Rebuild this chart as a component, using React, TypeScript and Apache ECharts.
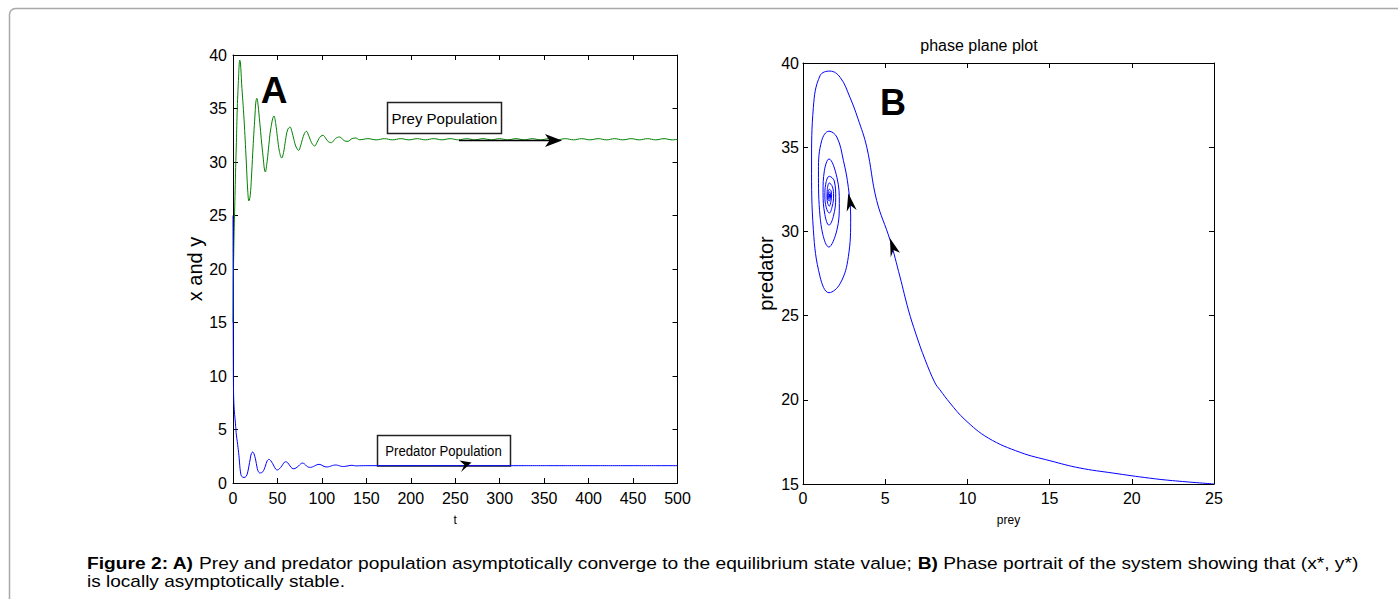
import React, { useEffect, useRef } from 'react';
import * as echarts from 'echarts';

const FONT = "'Liberation Sans', Arial, Helvetica, sans-serif";

// time (t) samples
const tValues = [
  0, 0.05, 0.08, 0.12, 0.17, 0.22, 0.28, 0.36, 0.45, 0.55,
  0.65, 0.75, 1.0, 1.4, 1.8, 2.4, 3.0, 3.8, 4.8, 5.6,
  6.3, 7.0, 7.6, 8.4, 9.7, 12.4, 14.9, 16.6, 17.9, 19.4,
  20.7, 22.2, 23.4, 24.6, 25.7, 26.8, 28.1, 30.2, 33.4, 36.4,
  38.4, 40.4, 42.7, 46.1, 48, 50, 52.2, 54.8, 56.9, 59,
  61.4, 64.1, 66.4, 68.5, 71, 73.9, 76, 78, 80.3, 82.6,
  85, 87.3, 89.5, 91.9, 94.3, 96.8, 99, 101.2, 103.6, 106,
  108.4, 110.7, 113.1, 115.4, 117.7, 120, 122.4, 124.6, 127, 129.4,
  131.6, 133.8, 136, 138, 142.5, 151.8, 161, 170.3, 179.5, 188.8,
  198, 207.3, 216.5, 225.8, 235, 244.3, 253.5, 262.8, 272, 281.3,
  290.5, 299.8, 309, 318.3, 327.5, 336.8, 346, 355.3, 364.5, 373.8,
  383, 392.3, 401.5, 410.8, 420, 429.3, 438.5, 447.8, 457, 466.3,
  475.5, 484.8, 494, 500,
];

// blue curve (lower population, "prey" axis of the phase plot)
const bluePop = [
  25.0, 22.48, 21.07, 18.85, 16.84, 15.03, 13.21, 11.27, 9.85, 8.94,
  8.33, 8.03, 7.42, 6.87, 6.41, 5.9, 5.29, 4.48, 3.88, 3.34,
  2.86, 2.26, 1.64, 1.04, 0.63, 0.52, 0.63, 1.04, 1.58, 2.26,
  2.76, 2.9, 2.76, 2.46, 2.06, 1.58, 1.14, 0.94, 1.04, 1.58,
  2.06, 2.21, 2.06, 1.58, 1.3, 1.22, 1.33, 1.58, 1.85, 1.99,
  1.9, 1.6, 1.38, 1.33, 1.42, 1.6, 1.78, 1.86, 1.79, 1.6,
  1.48, 1.46, 1.51, 1.6, 1.7, 1.74, 1.7, 1.6, 1.52, 1.5,
  1.54, 1.6, 1.66, 1.68, 1.66, 1.6, 1.55, 1.54, 1.57, 1.6,
  1.64, 1.65, 1.63, 1.6, 1.61, 1.62, 1.62, 1.62, 1.62, 1.62,
  1.62, 1.62, 1.62, 1.62, 1.62, 1.62, 1.62, 1.62, 1.62, 1.62,
  1.62, 1.62, 1.62, 1.62, 1.62, 1.62, 1.62, 1.62, 1.62, 1.62,
  1.62, 1.62, 1.62, 1.62, 1.62, 1.62, 1.62, 1.62, 1.62, 1.62,
  1.62, 1.62, 1.62, 1.62,
];

// green curve (upper population, "predator" axis of the phase plot)
const greenPop = [
  15.0, 15.2, 15.35, 15.65, 15.95, 16.38, 16.88, 17.73, 18.82, 19.81,
  20.59, 21.0, 22.4, 23.9, 25.34, 27.3, 29.5, 31.84, 35.0, 36.7,
  37.95, 39.15, 39.52, 39.25, 37.36, 34.0, 30.1, 27.3, 26.36, 26.9,
  28.5, 30.85, 32.6, 34.2, 35.6, 35.95, 35.4, 33.6, 30.85, 29.07,
  30.07, 31.65, 33.22, 34.3, 33.6, 32.3, 31.0, 30.37, 30.9, 32.0,
  33.0, 33.27, 32.8, 32.1, 31.4, 31.09, 31.5, 32.1, 32.65, 32.87,
  32.5, 32.0, 31.65, 31.5, 31.8, 32.2, 32.42, 32.5, 32.3, 32.0,
  31.85, 31.81, 31.98, 32.2, 32.3, 32.34, 32.2, 32.03, 31.94, 31.93,
  32.05, 32.18, 32.23, 32.24, 32.08, 32.18, 32.07, 32.18, 32.07, 32.18,
  32.07, 32.18, 32.07, 32.18, 32.07, 32.18, 32.07, 32.18, 32.07, 32.18,
  32.07, 32.18, 32.07, 32.18, 32.07, 32.18, 32.07, 32.18, 32.07, 32.18,
  32.07, 32.18, 32.07, 32.18, 32.07, 32.18, 32.07, 32.18, 32.07, 32.18,
  32.07, 32.18, 32.07, 32.12,
];

const captionLine1 =
  '{b|Figure 2: A)} Prey and predator population asymptotically converge to the equilibrium state value; {b|B)} Phase portrait of the system showing that (x*, y*)';
const captionLine2 = 'is locally asymptotically stable.';

const axisLineStyle = { show: true, onZero: false, lineStyle: { color: '#000', width: 1 } };
const tickStyle = { show: true, inside: true, length: 5, lineStyle: { color: '#000', width: 1 } };
const labelStyle = (margin: number) => ({ color: '#000', fontSize: 16, fontFamily: FONT, margin });

export default function App() {
  const ref = useRef<HTMLDivElement>(null);

  useEffect(() => {
    const chart = echarts.init(ref.current!, null, { renderer: 'svg' });

    const greenA = tValues.map((t, i) => [t, greenPop[i]]);
    const blueA = tValues.map((t, i) => [t, bluePop[i]]);
    const phase = tValues.map((_, i) => [bluePop[i], greenPop[i]]);

    const option: any = {
      animation: false,
      backgroundColor: '#fff',
      grid: [
        { left: 233, top: 55, width: 444.5, height: 428, containLabel: false },
        { left: 803, top: 63, width: 411, height: 421, containLabel: false },
      ],
      xAxis: [
        {
          gridIndex: 0, type: 'value', min: 0, max: 500, interval: 50, position: 'bottom',
          axisLine: axisLineStyle, axisTick: tickStyle, splitLine: { show: false },
          axisLabel: labelStyle(7),
          name: 't', nameLocation: 'middle', nameGap: 31,
          nameTextStyle: { color: '#000', fontSize: 12, fontFamily: FONT },
        },
        {
          gridIndex: 0, type: 'value', min: 0, max: 500, interval: 50, position: 'top',
          axisLine: axisLineStyle, axisTick: tickStyle, splitLine: { show: false },
          axisLabel: { show: false },
        },
        {
          gridIndex: 1, type: 'value', min: 0, max: 25, interval: 5, position: 'bottom',
          axisLine: axisLineStyle, axisTick: tickStyle, splitLine: { show: false },
          axisLabel: labelStyle(6),
          name: 'prey', nameLocation: 'middle', nameGap: 30,
          nameTextStyle: { color: '#000', fontSize: 12, fontFamily: FONT },
        },
        {
          gridIndex: 1, type: 'value', min: 0, max: 25, interval: 5, position: 'top',
          axisLine: axisLineStyle, axisTick: tickStyle, splitLine: { show: false },
          axisLabel: { show: false },
        },
      ],
      yAxis: [
        {
          gridIndex: 0, type: 'value', min: 0, max: 40, interval: 5, position: 'left',
          axisLine: axisLineStyle, axisTick: tickStyle, splitLine: { show: false },
          axisLabel: labelStyle(6),
          name: 'x and y', nameLocation: 'middle', nameGap: 28,
          nameTextStyle: { color: '#000', fontSize: 20, fontFamily: FONT },
        },
        {
          gridIndex: 0, type: 'value', min: 0, max: 40, interval: 5, position: 'right',
          axisLine: axisLineStyle, axisTick: tickStyle, splitLine: { show: false },
          axisLabel: { show: false },
        },
        {
          gridIndex: 1, type: 'value', min: 15, max: 40, interval: 5, position: 'left',
          axisLine: axisLineStyle, axisTick: tickStyle, splitLine: { show: false },
          axisLabel: labelStyle(4),
          name: 'predator', nameLocation: 'middle', nameGap: 27,
          nameTextStyle: { color: '#000', fontSize: 20, fontFamily: FONT },
        },
        {
          gridIndex: 1, type: 'value', min: 15, max: 40, interval: 5, position: 'right',
          axisLine: axisLineStyle, axisTick: tickStyle, splitLine: { show: false },
          axisLabel: { show: false },
        },
      ],
      series: [
        {
          type: 'line', name: 'Prey Population', xAxisIndex: 0, yAxisIndex: 0,
          data: greenA, showSymbol: false, smooth: 0.4,
          lineStyle: { color: '#008000', width: 1 }, z: 3,
        },
        {
          type: 'line', name: 'Predator Population', xAxisIndex: 0, yAxisIndex: 0,
          data: blueA, showSymbol: false, smooth: 0.4,
          lineStyle: { color: '#0000ff', width: 1 }, z: 4,
        },
        {
          type: 'line', name: 'phase', xAxisIndex: 2, yAxisIndex: 2,
          data: phase, showSymbol: false, smooth: 0.4,
          lineStyle: { color: '#0000ff', width: 1 }, z: 3,
        },
      ],
      graphic: [
        {
          type: 'rect', silent: true, z: -10,
          shape: { x: 9.5, y: 8.5, width: 1420, height: 620, r: 6 },
          style: { fill: 'transparent', stroke: '#a9a9a9', lineWidth: 1.5 },
        },
        {
          type: 'text', x: 274, y: 90, z: 50,
          style: { text: 'A', fontSize: 37, fontWeight: 'bold', fontFamily: FONT, fill: '#000', align: 'center', verticalAlign: 'middle', textAlign: 'center', textVerticalAlign: 'middle' },
        },
        {
          type: 'text', x: 893, y: 102.5, z: 50,
          style: { text: 'B', fontSize: 36, fontWeight: 'bold', fontFamily: FONT, fill: '#000', align: 'center', verticalAlign: 'middle', textAlign: 'center', textVerticalAlign: 'middle' },
        },
        {
          type: 'text', x: 979, y: 45, z: 50,
          style: { text: 'phase plane plot', fontSize: 16, fontFamily: FONT, fill: '#000', align: 'center', verticalAlign: 'middle', textAlign: 'center', textVerticalAlign: 'middle' },
        },
        // Prey Population annotation
        {
          type: 'rect', z: 5,
          shape: { x: 387.5, y: 102.5, width: 114, height: 31 },
          style: { fill: '#fff', stroke: '#222', lineWidth: 1.5 },
        },
        {
          type: 'text', x: 444.5, y: 118.5, z: 6,
          style: { text: 'Prey Population', fontSize: 15, fontFamily: FONT, fill: '#000', align: 'center', verticalAlign: 'middle', textAlign: 'center', textVerticalAlign: 'middle' },
        },
        {
          type: 'line', z: 60,
          shape: { x1: 459, y1: 140.5, x2: 551, y2: 140.5 },
          style: { stroke: '#000', lineWidth: 1.5 },
        },
        {
          type: 'polygon', z: 60,
          shape: { points: [[562, 140.5], [545, 134], [549.5, 140.5], [545, 147]] },
          style: { fill: '#000' },
        },
        // Predator Population annotation
        {
          type: 'rect', z: 1,
          shape: { x: 377.5, y: 435.5, width: 133, height: 30.5 },
          style: { fill: '#fff', stroke: '#222', lineWidth: 1.5 },
        },
        {
          type: 'text', x: 443.5, y: 451, z: 6, scaleX: 0.88,
          style: { text: 'Predator Population', fontSize: 15, fontFamily: FONT, fill: '#000', align: 'center', verticalAlign: 'middle', textAlign: 'center', textVerticalAlign: 'middle' },
        },
        {
          type: 'polygon', z: 60,
          shape: { points: [[471.5, 462.5], [459.5, 460.5], [464.5, 465], [461, 472]] },
          style: { fill: '#000' },
        },
        // phase plot arrows
        {
          type: 'polygon', z: 60,
          shape: { points: [[848.3, 193.3], [856.7, 210], [850.5, 205.5], [846.7, 211.7]] },
          style: { fill: '#000' },
        },
        {
          type: 'polygon', z: 60,
          shape: { points: [[890, 238.3], [900, 252.7], [893.5, 250], [890.7, 257.3]] },
          style: { fill: '#000' },
        },
        // caption
        {
          type: 'text', x: 87, y: 563, z: 50, scaleX: 1.13,
          style: {
            text: captionLine1, fontSize: 17, fontFamily: FONT, fill: '#000',
            align: 'left', verticalAlign: 'middle', textAlign: 'left', textVerticalAlign: 'middle',
            rich: { b: { fontSize: 17, fontFamily: FONT, fontWeight: 'bold', fill: '#000', color: '#000' } },
          },
        },
        {
          type: 'text', x: 87, y: 581, z: 50, scaleX: 1.12,
          style: {
            text: captionLine2, fontSize: 17, fontFamily: FONT, fill: '#000',
            align: 'left', verticalAlign: 'middle', textAlign: 'left', textVerticalAlign: 'middle',
          },
        },
      ],
    };

    chart.setOption(option);
    return () => chart.dispose();
  }, []);

  return (
    <div
      ref={ref}
      style={{ position: 'fixed', left: 0, top: 0, width: 1398, height: 599, background: '#fff' }}
    />
  );
}
